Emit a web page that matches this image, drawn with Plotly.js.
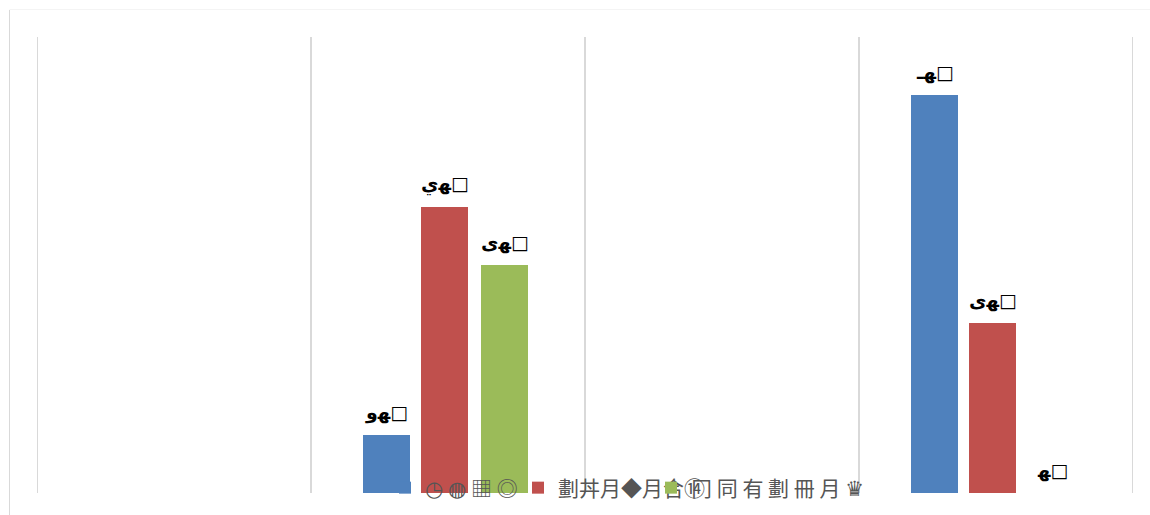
<!DOCTYPE html>
<html>
<head>
<meta charset="utf-8">
<script src="https://cdn.plot.ly/plotly-3.0.1.min.js"></script>
<style>
html,body{margin:0;padding:0;background:#fff;}
#chart{width:1150px;height:515px;}
g.legend g.scrollbox{clip-path:none !important;}
</style>
</head>
<body>
<div id="chart"></div>
<script>
// Data
var categories = ["C1", "C2", "C3", "C4"];
var seriesNames = ["◷ ◍ ▦ ◎", "劃丼月◆月合⑭", "冂 同 有 劃 冊 月 ♛"];
var seriesA = [null, 58, null, 398];
var seriesB = [null, 286, null, 170];
var seriesC = [null, 228, null, 0];
var labelsA = ["", "\u200Eﻬو□", "", "\u200Eﻬـ□"];
var labelsB = ["", "\u200Eﻬي□", "", "\u200Eﻬى□"];
var labelsC = ["", "\u200Eﻬى□", "", "\u200Eﻬ□"];
var colors = ["#4f81bd", "#c0504d", "#9bbb59"];

var CAT = 274, BARW = 47 / CAT;
var offs = [-85 / CAT, -27 / CAT, 33 / CAT];
var allVals = [seriesA, seriesB, seriesC];
var allLabels = [labelsA, labelsB, labelsC];

function mk(i) {
  return {
    type: "bar", name: seriesNames[i], x: categories, y: allVals[i],
    width: BARW, offset: offs[i],
    marker: {color: colors[i]}, hoverinfo: "none"
  };
}
var data = [mk(0), mk(1), mk(2)];

// value labels, anchored on each bar through the axes
var annotations = [];
for (var s = 0; s < 3; s++) {
  for (var c = 0; c < categories.length; c++) {
    if (allVals[s][c] === null) continue;
    annotations.push({
      xref: "x", yref: "y", x: c + offs[s] + BARW / 2, y: allVals[s][c],
      text: allLabels[s][c], showarrow: false, xanchor: "center", yanchor: "bottom",
      yshift: 9,
      font: {family: "DejaVu Sans", size: 19, color: "#000", weight: "bold"}
    });
  }
}

var L = 37, R = 1133, T = 37, B = 493;
var W = R - L;
var PH = 515 - T;           // plot height in px (bottom margin 0)
var below = 515 - B;        // px below the baseline
var yMax = B - T;
function px(x) { return (x - L) / W; }
function py(y) { return (515 - y) / PH; }

var shapes = [
  {type: "line", xref: "paper", yref: "paper", x0: px(9.5), x1: px(9.5), y0: py(10), y1: py(515),
   line: {color: "#d9d9d9", width: 1}},
  {type: "line", xref: "paper", yref: "paper", x0: px(9.5), x1: px(1150), y0: py(9.5), y1: py(9.5),
   line: {color: "#f4f4f4", width: 1}}
];
for (var g = 0; g <= categories.length; g++) {
  shapes.push({type: "line", xref: "x", yref: "y", x0: g - 0.5, x1: g - 0.5, y0: 0, y1: yMax,
    line: {color: "#d9d9d9", width: 2}, layer: "below"});
}

var layout = {
  width: 1150, height: 515,
  margin: {l: L, r: 1150 - R, t: T, b: 0, pad: 0},
  paper_bgcolor: "#fff", plot_bgcolor: "rgba(0,0,0,0)",
  barmode: "group",
  showlegend: true,
  legend: {
    orientation: "h", x: px(385), xanchor: "left",
    y: py(488), yanchor: "middle",
    bgcolor: "rgba(0,0,0,0)",
    font: {family: "Noto Sans CJK SC, DejaVu Sans", size: 21, color: "#555"},
    itemwidth: 30, entrywidth: 88, entrywidthmode: "pixels",
    traceorder: "normal"
  },
  xaxis: {
    type: "category", range: [-0.5, 3.5], showgrid: false, showticklabels: false,
    ticks: "", zeroline: false, showline: false, fixedrange: true
  },
  yaxis: {
    range: [-below, yMax], showgrid: false, showticklabels: false, ticks: "",
    zeroline: false, showline: false, fixedrange: true
  },
  shapes: shapes,
  annotations: annotations
};
Plotly.newPlot("chart", data, layout, {displayModeBar: false, staticPlot: true});
</script>
</body>
</html>
